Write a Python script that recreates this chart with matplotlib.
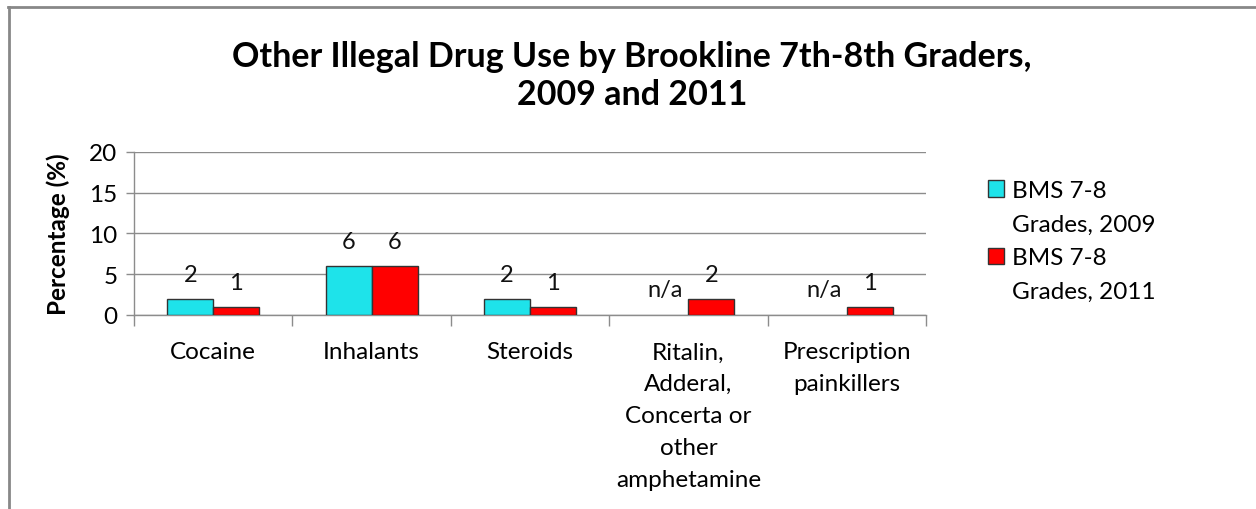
import matplotlib.pyplot as plt
import numpy as np
from matplotlib.lines import Line2D

# chart data
categories = ["Cocaine", "Inhalants", "Steroids",
              "Ritalin,\nAdderal,\nConcerta or\nother\namphetamine",
              "Prescription\npainkillers"]
series_names = ["BMS 7-8\nGrades, 2009", "BMS 7-8\nGrades, 2011"]
values_2009 = [2, 6, 2, np.nan, np.nan]
values_2011 = [1, 6, 1, 2, 1]
y_ticks = [0, 5, 10, 15, 20]

cyan = "#1ee3ea"
red = "#ff0000"
grid_col = "#8c8c8c"

plt.rcParams['font.family'] = ['Lato', 'DejaVu Sans']

fig = plt.figure(figsize=(12.56, 5.10), dpi=100)
ax = fig.add_axes([134 / 1256, 1 - 316 / 510, 792 / 1256, 163.3 / 510])

x = np.arange(len(categories))
w = 0.29

def draw(vals, offset, color):
    for xi, v in zip(x, vals):
        if np.isnan(v):
            ax.annotate("n/a", (xi + offset, 0), xytext=(0, 11), textcoords="offset points",
                        ha="center", va="bottom", fontsize=17, color="#111111")
        else:
            ax.bar(xi + offset, v, w, color=color, edgecolor="#333333", linewidth=1, zorder=3)
            ax.annotate(f"{v:g}", (xi + offset, v), xytext=(0, 10), textcoords="offset points",
                        ha="center", va="bottom", fontsize=17, color="#111111")

draw(values_2009, -w / 2, cyan)
draw(values_2011, w / 2, red)

ax.set_xlim(-0.5, len(categories) - 0.5)
ax.set_ylim(0, 20)
ax.set_yticks(y_ticks)
ax.set_yticklabels([str(t) for t in y_ticks], fontsize=17.5)
ax.yaxis.grid(True, color=grid_col, linewidth=1)
ax.set_axisbelow(True)

ax.set_xticks(x)
ax.set_xticklabels(categories, fontsize=17.5, linespacing=1.64, va="top")
ax.tick_params(axis="x", length=0, pad=19)
ax.set_xticks(np.arange(-0.5, len(categories)), minor=True)
ax.tick_params(axis="x", which="minor", length=8, color=grid_col, width=1)
ax.tick_params(axis="y", length=6, color=grid_col, width=1, pad=6)

for s in ["top", "right"]:
    ax.spines[s].set_visible(False)
for s in ["left", "bottom"]:
    ax.spines[s].set_color(grid_col)
    ax.spines[s].set_linewidth(1)

ax.set_ylabel("Percentage (%)", fontsize=17.5, fontweight="bold", labelpad=14)

fig.text(0.503, 1 - 76 / 510, "Other Illegal Drug Use by Brookline 7th-8th Graders,\n2009 and 2011",
         ha="center", va="center", fontsize=24.5, fontweight="bold", linespacing=1.25)

# legend: marker sits beside the first line of each two-line label
colors = [cyan, red]
handles, labels = [], []
for name, col in zip(series_names, colors):
    first, second = name.split("\n")
    handles.append(plt.Rectangle((0, 0), 1, 1, facecolor=col, edgecolor="#333333"))
    labels.append(first)
    handles.append(plt.Rectangle((0, 0), 1, 1, facecolor="none", edgecolor="none"))
    labels.append(second)
leg = fig.legend(handles, labels, loc="upper left", bbox_to_anchor=(988 / 1256, 1 - 181 / 510),
                 frameon=False, fontsize=17.5, handlelength=0.65, handleheight=0.65,
                 handletextpad=0.35, labelspacing=0.52, borderaxespad=0, borderpad=0)

# outer chart border (top and left)
fig.add_artist(Line2D([8 / 1256, 1], [1 - 7.5 / 510, 1 - 7.5 / 510], color="#888888", linewidth=2))
fig.add_artist(Line2D([8.5 / 1256, 8.5 / 1256], [0, 1 - 7.5 / 510], color="#888888", linewidth=2))

fig.savefig("out.png", dpi=100)
